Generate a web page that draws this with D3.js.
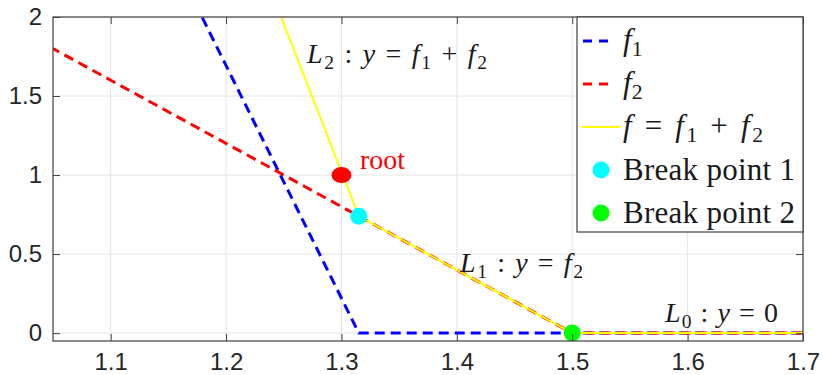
<!DOCTYPE html>
<html>
<head>
<meta charset="utf-8">
<script src="https://cdn.jsdelivr.net/npm/d3@7"></script>
<style>
  html, body { margin: 0; padding: 0; background: #fff; }
  svg { display: block; }
</style>
</head>
<body>
<svg id="chart" width="823" height="375"></svg>
<script>
// ---- data ----
const xBreaks   = [1.05, 1.315, 1.5, 1.7];
const f1Values  = [3.9, 0, 0, 0];
const f2Values  = [1.8, 0.74, 0, 0];
const fValues   = [5.7, 0.74, 0, 0];
const rootPoint = [1.3, 1.0];
const break1    = [1.315, 0.74];
const break2    = [1.5, 0];
const xTicks    = [1.1, 1.2, 1.3, 1.4, 1.5, 1.6, 1.7];
const xTickLabels = ["1.1", "1.2", "1.3", "1.4", "1.5", "1.6", "1.7"];
const yTicks    = [0, 0.5, 1, 1.5, 2];
const yTickLabels = ["0", "0.5", "1", "1.5", "2"];

const svg = d3.select("#chart");
const L = 53, R = 803, T = 17, B = 341;
const x = d3.scaleLinear().domain([1.05, 1.7]).range([L, R]);
const y = d3.scaleLinear().domain([-0.05, 2]).range([B, T]);

const axisColor = "#404040";
const serif = "'Liberation Serif', 'Times New Roman', serif";
const sans = "'Liberation Sans', Arial, Helvetica, sans-serif";

svg.append("defs").append("clipPath").attr("id", "clip")
  .append("rect").attr("x", L).attr("y", T).attr("width", R - L).attr("height", B - T);

// grid
const grid = svg.append("g");
grid.selectAll(".gx").data(xTicks).join("line")
  .attr("x1", d => x(d)).attr("x2", d => x(d)).attr("y1", T).attr("y2", B)
  .attr("stroke", "#e4e4e4").attr("stroke-width", 1);
grid.selectAll(".gy").data(yTicks).join("line")
  .attr("x1", L).attr("x2", R).attr("y1", d => y(d)).attr("y2", d => y(d))
  .attr("stroke", "#e4e4e4").attr("stroke-width", 1);

// lines
const plot = svg.append("g").attr("clip-path", "url(#clip)");
const lineGen = vals => d3.line().x((d, i) => x(xBreaks[i])).y(d => y(d))(vals);
plot.append("path").attr("d", lineGen(f1Values)).attr("fill", "none")
  .attr("stroke", "#0000ff").attr("stroke-width", 3).attr("stroke-dasharray", "10,6");
plot.append("path").attr("d", lineGen(f2Values)).attr("fill", "none")
  .attr("stroke", "#ff0000").attr("stroke-width", 3).attr("stroke-dasharray", "10,6")
  .attr("stroke-dashoffset", 3);
plot.append("path").attr("d", lineGen(fValues)).attr("fill", "none")
  .attr("stroke", "#ffff00").attr("stroke-width", 2);

// points
svg.append("ellipse").attr("cx", x(rootPoint[0])).attr("cy", y(rootPoint[1]))
  .attr("rx", 10).attr("ry", 8).attr("fill", "#ff0000");
svg.append("circle").attr("cx", x(break1[0])).attr("cy", y(break1[1]))
  .attr("r", 8.5).attr("fill", "#00ffff");
svg.append("circle").attr("cx", x(break2[0])).attr("cy", y(break2[1]))
  .attr("r", 8.5).attr("fill", "#00ff00");

// axes (box with inward ticks)
function styleAxis(g) {
  g.select(".domain").remove();
  g.selectAll(".tick line").attr("stroke", axisColor).attr("stroke-width", 1);
}
svg.append("g").attr("transform", `translate(0,${B})`)
  .call(d3.axisBottom(x).tickValues(xTicks).tickFormat((d, i) => xTickLabels[i]).tickSize(-7).tickPadding(12))
  .call(styleAxis)
  .call(g => g.selectAll("text").attr("font-family", sans).attr("font-size", 24).attr("fill", "#262626"));
svg.append("g").attr("transform", `translate(0,${T})`)
  .call(d3.axisTop(x).tickValues(xTicks).tickFormat("").tickSize(-7))
  .call(styleAxis);
svg.append("g").attr("transform", `translate(${L},0)`)
  .call(d3.axisLeft(y).tickValues(yTicks).tickFormat((d, i) => yTickLabels[i]).tickSize(-7).tickPadding(11))
  .call(styleAxis)
  .call(g => g.selectAll("text").attr("font-family", sans).attr("font-size", 24).attr("fill", "#262626"));
svg.append("g").attr("transform", `translate(${R},0)`)
  .call(d3.axisRight(y).tickValues(yTicks).tickFormat("").tickSize(-7))
  .call(styleAxis);
svg.append("rect").attr("x", L).attr("y", T).attr("width", R - L).attr("height", B - T)
  .attr("fill", "none").attr("stroke", axisColor).attr("stroke-width", 1.2);

// math text helper
function mathText(sel, parts, size) {
  parts.forEach(([t, s]) => {
    const ts = sel.append("tspan").text(t);
    if (s === "i") ts.attr("font-style", "italic");
    if (s === "s") ts.attr("font-size", size * 0.7).attr("dy", size * 0.2);
    if (s === "u") ts.attr("dy", -size * 0.2);
  });
}
function annot(xp, yp, parts, size, len, parent) {
  const t = (parent || svg).append("text").attr("x", xp).attr("y", yp)
    .attr("font-family", serif).attr("font-size", size).attr("fill", "#1a1a1a")
    .attr("xml:space", "preserve");
  if (len) t.attr("textLength", len).attr("lengthAdjust", "spacing");
  mathText(t, parts, size);
  return t;
}
annot(307, 63, [["L","i"],["2","s"],[" : ","u"],["y","i"],[" = ",""],["f","i"],["1","s"],[" + ","u"],["f","i"],["2","s"]], 28, 180);
annot(460, 272, [["L","i"],["1","s"],[" : ","u"],["y","i"],[" = ",""],["f","i"],["2","s"]], 28, 123);
annot(665, 322, [["L","i"],["0","s"],[" : ","u"],["y","i"],[" = 0",""]], 28, 113);
svg.append("text").attr("x", 360).attr("y", 169).attr("font-family", serif)
  .attr("font-size", 28).attr("fill", "#ff0000").text("root");

// legend
const lg = svg.append("g");
lg.append("rect").attr("x", 577).attr("y", T).attr("width", R - 577).attr("height", 215)
  .attr("fill", "#fff").attr("stroke", axisColor).attr("stroke-width", 1.2);
const rowY = [41, 84, 127, 170, 213];
lg.append("line").attr("x1", 583).attr("x2", 613).attr("y1", rowY[0]).attr("y2", rowY[0])
  .attr("stroke", "#0000ff").attr("stroke-width", 3).attr("stroke-dasharray", "9,7");
lg.append("line").attr("x1", 583).attr("x2", 613).attr("y1", rowY[1]).attr("y2", rowY[1])
  .attr("stroke", "#ff0000").attr("stroke-width", 3).attr("stroke-dasharray", "9,7");
lg.append("line").attr("x1", 582).attr("x2", 620).attr("y1", rowY[2]).attr("y2", rowY[2])
  .attr("stroke", "#ffff00").attr("stroke-width", 2);
lg.append("circle").attr("cx", 601).attr("cy", rowY[3]).attr("r", 8.5).attr("fill", "#00ffff");
lg.append("circle").attr("cx", 601).attr("cy", rowY[4]).attr("r", 8.5).attr("fill", "#00ff00");
annot(623, rowY[0] + 9, [["f","i"],["1","s"]], 31, null, lg);
annot(623, rowY[1] + 9, [["f","i"],["2","s"]], 31, null, lg);
annot(623, rowY[2] + 9, [["f","i"],[" = ",""],["f","i"],["1","s"],[" + ","u"],["f","i"],["2","s"]], 31, 140, lg);
annot(623, rowY[3] + 10, [["Break point 1",""]], 31, 172, lg);
annot(623, rowY[4] + 10, [["Break point 2",""]], 31, 172, lg);
</script>
</body>
</html>
